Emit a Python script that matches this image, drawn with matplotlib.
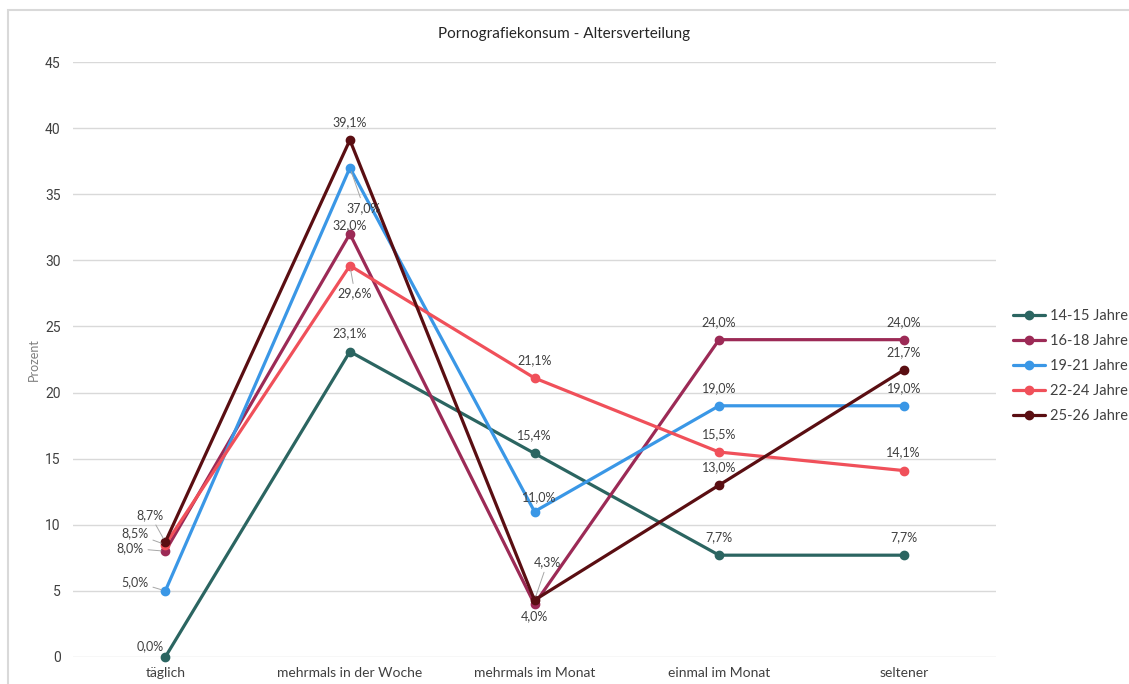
import matplotlib
matplotlib.use("Agg")
import matplotlib.pyplot as plt
from matplotlib.patches import Rectangle

categories = ["täglich", "mehrmals in der Woche", "mehrmals im Monat", "einmal im Monat", "seltener"]
series_names = ["14-15 Jahre", "16-18 Jahre", "19-21 Jahre", "22-24 Jahre", "25-26 Jahre"]
v_14_15 = [0.0, 23.1, 15.4, 7.7, 7.7]
v_16_18 = [8.0, 32.0, 4.0, 24.0, 24.0]
v_19_21 = [5.0, 37.0, 11.0, 19.0, 19.0]
v_22_24 = [8.5, 29.6, 21.1, 15.5, 14.1]
v_25_26 = [8.7, 39.1, 4.3, 13.0, 21.7]
series_values = [v_14_15, v_16_18, v_19_21, v_22_24, v_25_26]
colors = ["#2b6561", "#9c2a56", "#3a97e6", "#f0505a", "#5a0e12"]
y_ticks = [0, 5, 10, 15, 20, 25, 30, 35, 40, 45]

# label offsets in pixels (dx, dy) and whether a leader line is drawn
label_pos = {
    (0, 0): (-15, 11, False), (1, 0): (-35, 3, True), (2, 0): (-30, 9, True),
    (3, 0): (-30, 11, True), (4, 0): (-15, 27, True),
    (2, 1): (14, -40, True), (3, 1): (5, -28, True), (1, 1): (0, 9, False),
    (2, 2): (5, 14, False), (4, 2): (13, 38, True), (1, 2): (0, -12, False),
}

plt.rcParams["font.family"] = ["Lato", "DejaVu Sans"]
txt = "#404040"

fig = plt.figure(figsize=(11.29, 6.84), dpi=100)
ax = fig.add_axes([73 / 1129, 1 - 657 / 684, (996 - 73) / 1129, (657 - 62) / 684])

# chart frame
fig.patches.append(Rectangle((8 / 1129, -0.1), 1.2, 1.1 - 10 / 684, transform=fig.transFigure,
                             fill=False, edgecolor="#d9d9d9", linewidth=1.5, zorder=0))

x = list(range(len(categories)))
for si, (name, vals, col) in enumerate(zip(series_names, series_values, colors)):
    ax.plot(x, vals, color=col, lw=2.3, marker="o", ms=6, label=name, zorder=3 + si,
            solid_capstyle="round", clip_on=False)

for si, vals in enumerate(series_values):
    for ci, v in enumerate(vals):
        dx, dy, leader = label_pos.get((si, ci), (0, 18, False))
        lab = f"{v:.1f}%".replace(".", ",")
        kw = dict(arrowprops=dict(arrowstyle="-", color="#a6a6a6", lw=0.7, shrinkA=1, shrinkB=3)) if leader else {}
        ax.annotate(lab, (ci, v), xytext=(dx, dy), textcoords="offset pixels",
                    ha="center", va="center", fontsize=9, color=txt, zorder=10, **kw)

ax.set_xlim(-0.5, 4.5)
ax.set_ylim(0, 45)
ax.set_yticks(y_ticks)
ax.set_xticks(x)
ax.set_xticklabels(categories)
ax.tick_params(axis="both", length=0, labelsize=10, colors=txt)
ax.tick_params(axis="x", pad=7)
ax.tick_params(axis="y", pad=9)
for lbl in ax.get_yticklabels():
    lbl.set_fontfamily(["Roboto", "DejaVu Sans"])
ax.grid(axis="y", color="#d9d9d9", lw=1)
ax.set_axisbelow(True)
for s in ax.spines.values():
    s.set_visible(False)
ax.set_ylabel("Prozent", fontsize=9, color="#7f7f7f")
ax.yaxis.set_label_coords(-0.036, 0.5)

fig.text(0.5, 1 - 34 / 684, "Pornografiekonsum - Altersverteilung", ha="center", va="center",
         fontsize=11, color="#262626")

leg = fig.legend(loc="center left", bbox_to_anchor=(1000 / 1129, 1 - 366 / 684), frameon=False,
                 fontsize=10.5, handlelength=2.2, handletextpad=0.3, labelspacing=0.75,
                 labelcolor=txt)

fig.savefig("out.png", dpi=100)
